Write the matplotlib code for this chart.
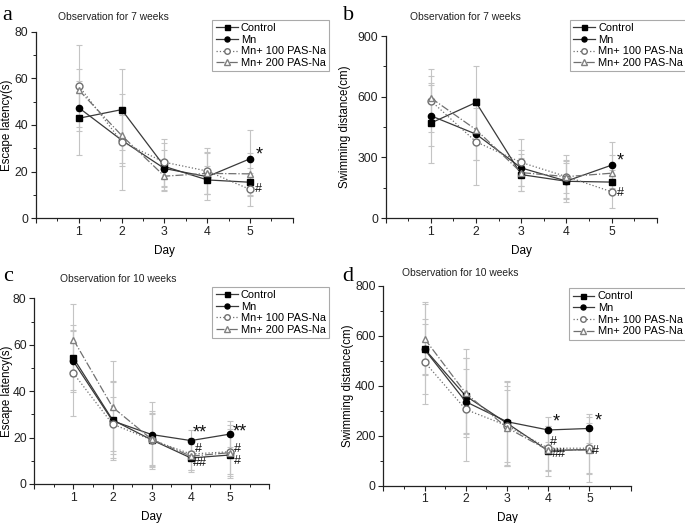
import matplotlib
matplotlib.use("Agg")
import matplotlib.pyplot as plt
from matplotlib.ticker import MultipleLocator, FixedLocator

plt.rcParams['font.family'] = ['Liberation Sans', 'DejaVu Sans']

days = [1, 2, 3, 4, 5]
series_names = ["Control", "Mn", "Mn+ 100 PAS-Na", "Mn+ 200 PAS-Na"]

# Panel a: escape latency, 7 weeks
a_control = [42.9, 46.6, 22.2, 16.4, 15.4]
a_mn = [47.4, 33.5, 21.3, 17.8, 25.5]
a_pas100 = [56.8, 32.8, 24.0, 20.2, 12.3]
a_pas200 = [55.0, 35.5, 18.0, 19.2, 19.0]
a_control_sd = [16, 17.5, 10, 6, 6]
a_mn_sd = [10, 11, 8, 10, 12.5]
a_pas100_sd = [17.7, 20.6, 10, 10, 7]
a_pas200_sd = [9, 12, 6.5, 9, 9]

# Panel b: swimming distance, 7 weeks
b_control = [470, 572, 215, 182, 178]
b_mn = [506, 415, 248, 183, 262]
b_pas100 = [580, 377, 275, 205, 130]
b_pas200 = [594, 437, 225, 205, 222]
b_control_sd = [200, 180, 80, 100, 60]
b_mn_sd = [150, 130, 90, 90, 115]
b_pas100_sd = [155, 215, 115, 105, 80]
b_pas200_sd = [110, 150, 90, 80, 90]

# Panel c: escape latency, 10 weeks
c_control = [54.3, 27.6, 19.0, 11.2, 12.5]
c_mn = [52.8, 27.2, 21.3, 18.7, 21.5]
c_pas100 = [47.7, 25.8, 19.0, 12.9, 13.9]
c_pas200 = [62.2, 33.1, 19.2, 12.0, 13.5]
c_control_sd = [14, 16.5, 11, 6, 8]
c_mn_sd = [13, 17, 14, 4.5, 5.5]
c_pas100_sd = [18.5, 11.5, 12.5, 7, 11.5]
c_pas200_sd = [15.5, 20, 11.5, 6, 10]

# Panel d: swimming distance, 10 weeks
d_control = [547, 359, 250, 140, 145]
d_mn = [545, 336, 256, 223, 229]
d_pas100 = [495, 305, 240, 150, 150]
d_pas200 = [588, 370, 232, 142, 143]
d_control_sd = [180, 150, 170, 100, 130]
d_mn_sd = [100, 130, 160, 50, 58]
d_pas100_sd = [170, 205, 160, 90, 100]
d_pas200_sd = [145, 175, 150, 80, 95]

# Significance marks: (day, value, text)
a_marks = [(5.12, 27, "*"), (5.12, 12.5, "#")]
b_marks = [(5.12, 282, "*"), (5.12, 124, "#")]
c_marks = [(4.05, 22, "**"), (4.1, 15.0, "#"), (4.05, 9.0, "##"),
           (5.08, 22.3, "**"), (5.1, 15.2, "#"), (5.1, 9.8, "#")]
d_marks = [(4.1, 254, "*"), (4.05, 176, "#"), (4.08, 128, "##"),
           (5.12, 259, "*"), (5.07, 139, "#")]

styles = [
    dict(color="#3a3a3a", ls="-", marker="s", mfc="black", mec="black", ms=4.5),
    dict(color="#3a3a3a", ls="-", marker="o", mfc="black", mec="black", ms=4.5),
    dict(color="#707070", ls=":", marker="o", mfc="white", mec="#707070", ms=5),
    dict(color="#707070", ls="-.", marker="^", mfc="white", mec="#808080", ms=5),
]

fig = plt.figure(figsize=(6.85, 5.23), dpi=100)

panels = [
    dict(rect=[0.0526, 0.583, 0.375, 0.356], data=[a_control, a_mn, a_pas100, a_pas200],
         sd=[a_control_sd, a_mn_sd, a_pas100_sd, a_pas200_sd], ylim=80, major=20, minor=10,
         ylabel="Escape latency(s)", title="Observation for 7 weeks", letter="a",
         letter_xy=(0.004, 0.962), title_xy=(0.085, 0.967), leg=(0.310, 0.962),
         marks=a_marks, ylab_x=-0.091),
    dict(rect=[0.563, 0.583, 0.396, 0.348], data=[b_control, b_mn, b_pas100, b_pas200],
         sd=[b_control_sd, b_mn_sd, b_pas100_sd, b_pas200_sd], ylim=900, major=300, minor=150,
         ylabel="Swimming distance(cm)", title="Observation for 7 weeks", letter="b",
         letter_xy=(0.500, 0.962), title_xy=(0.598, 0.967), leg=(0.832, 0.962),
         marks=b_marks, ylab_x=-0.128),
    dict(rect=[0.050, 0.0746, 0.343, 0.355], data=[c_control, c_mn, c_pas100, c_pas200],
         sd=[c_control_sd, c_mn_sd, c_pas100_sd, c_pas200_sd], ylim=80, major=20, minor=10,
         ylabel="Escape latency(s)", title="Observation for 10 weeks", letter="c",
         letter_xy=(0.004, 0.463), title_xy=(0.088, 0.467), leg=(0.310, 0.452),
         marks=c_marks, ylab_x=-0.092),
    dict(rect=[0.5596, 0.0713, 0.361, 0.3824], data=[d_control, d_mn, d_pas100, d_pas200],
         sd=[d_control_sd, d_mn_sd, d_pas100_sd, d_pas200_sd], ylim=800, major=200, minor=100,
         ylabel="Swimming distance(cm)", title="Observation for 10 weeks", letter="d",
         letter_xy=(0.500, 0.463), title_xy=(0.587, 0.478), leg=(0.831, 0.449),
         marks=d_marks, ylab_x=-0.12),
]

for p in panels:
    ax = fig.add_axes(p["rect"])
    handles = []
    for vals, sds, st, name in zip(p["data"], p["sd"], styles, series_names):
        ax.errorbar(days, vals, yerr=sds, fmt="none", ecolor="#c4c4c4",
                    elinewidth=0.8, capsize=2.5, capthick=0.8, zorder=1)
        h, = ax.plot(days, vals, lw=0.9, zorder=3, label=name, **st)
        handles.append(h)
    ax.set_xlim(0, 6)
    ax.set_ylim(0, p["ylim"])
    ax.spines["top"].set_visible(False)
    ax.spines["right"].set_visible(False)
    for s in ("left", "bottom"):
        ax.spines[s].set_linewidth(0.9)
        ax.spines[s].set_color("#222222")
    ax.xaxis.set_major_locator(FixedLocator([0, 1, 2, 3, 4, 5, 6]))
    ax.set_xticklabels(["", "1", "2", "3", "4", "5", ""])
    ax.xaxis.set_minor_locator(FixedLocator([0.5, 1.5, 2.5, 3.5, 4.5, 5.5]))
    ax.yaxis.set_major_locator(MultipleLocator(p["major"]))
    ax.yaxis.set_minor_locator(MultipleLocator(p["minor"]))
    ax.tick_params(which="major", direction="out", length=3.5, width=0.8,
                   labelsize=8.8, colors="#222222", pad=2)
    ax.tick_params(which="minor", direction="out", length=2, width=0.7, colors="#222222")
    ax.set_xlabel("Day", fontsize=8.5, labelpad=5)
    ax.set_ylabel(p["ylabel"], fontsize=8.3)
    ax.yaxis.set_label_coords(p["ylab_x"], 0.5)
    for (x, y, t) in p["marks"]:
        if "*" in t:
            ax.text(x, y, t, fontsize=13, ha="left", va="center", color="#111111")
        else:
            ax.text(x, y, t, fontsize=9, ha="left", va="center", color="#111111")
    fig.text(p["letter_xy"][0], p["letter_xy"][1], p["letter"], fontsize=16,
             family="Liberation Serif", ha="left", va="baseline")
    fig.text(p["title_xy"][0], p["title_xy"][1], p["title"], fontsize=7.4,
             ha="left", va="center", color="#222222")
    lx, ly = p["leg"]
    leg = fig.legend(handles=handles, loc="upper left",
                     bbox_to_anchor=(lx, ly), fontsize=7.9, frameon=True,
                     fancybox=False, edgecolor="#aaaaaa", framealpha=1,
                     handlelength=2.0, handletextpad=0.3, borderpad=0.3,
                     labelspacing=0.15, borderaxespad=0, markerscale=0.8)
    leg.get_frame().set_linewidth(0.8)

fig.savefig("out.png", dpi=100)
